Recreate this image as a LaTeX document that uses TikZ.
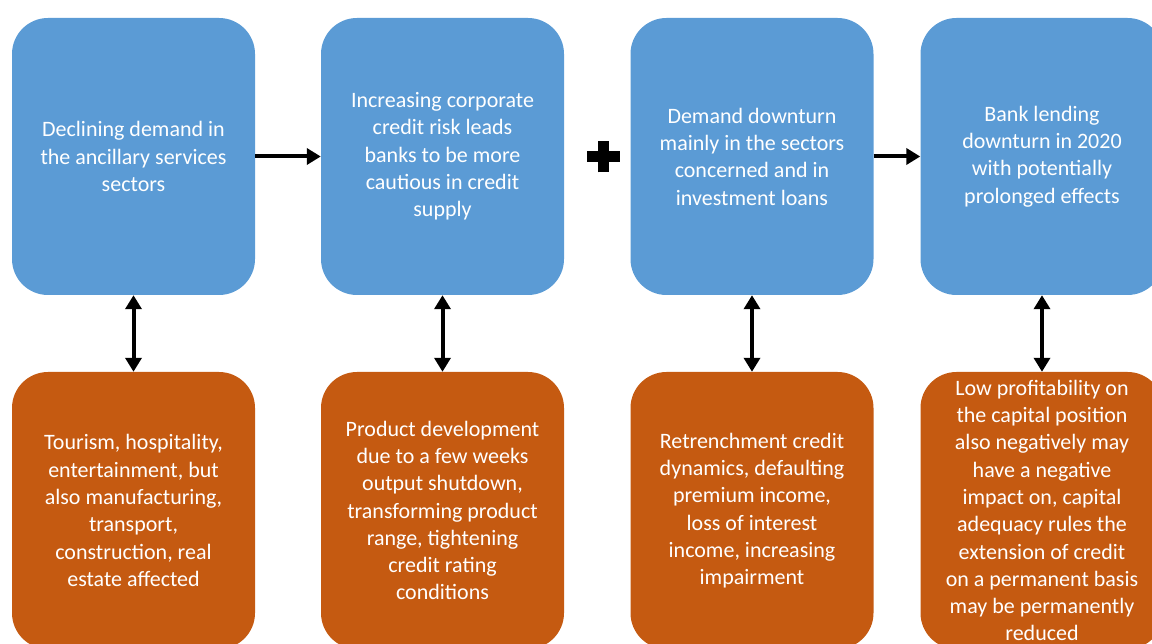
\documentclass[tikz,border=0pt]{standalone}
\usepackage{fontspec}
\setmainfont{Carlito}
\usepackage{xcolor}
\usetikzlibrary{arrows.meta}
\definecolor{dblue}{HTML}{5B9BD5}
\definecolor{dorange}{HTML}{C55A11}
\tikzstyle{stepbox}=[rounded corners=36pt,minimum width=243pt,minimum height=277pt,
  inner sep=0pt,align=center,text=white,font=\fontsize{22}{27.3}\selectfont]
\tikzstyle{cause}=[stepbox,fill=dblue]
\tikzstyle{effect}=[stepbox,fill=dorange]
\tikzstyle{arhead}=[>/.tip={Triangle[length=14pt,width=16pt]}]
\tikzstyle{ar} =[line width=4pt,arhead,->]
\tikzstyle{dar}=[line width=4pt,arhead,<->]
\begin{document}
\begin{tikzpicture}[x=1pt,y=-1pt]
	\useasboundingbox (0,0) rectangle (1152,644);
	\begin{scope}
	\clip (0,0) rectangle (1152,644);
	\node[cause]  (c1) at (133.5,156.5) {Declining demand in\\the ancillary services\\sectors};
	\node[cause]  (c2) at (442.5,156.5) {Increasing corporate\\credit risk leads\\banks to be more\\cautious in credit\\supply};
	\node[cause]  (c3) at (752,156.5)   {Demand downturn\\mainly in the sectors\\concerned and in\\investment loans};
	\node[cause]  (c4) at (1042,156.5)  {Bank lending\\downturn in 2020\\with potentially\\prolonged effects};
	\node[effect] (e1) at (133.5,510.5) {Tourism, hospitality,\\entertainment, but\\also manufacturing,\\transport,\\construction, real\\estate affected};
	\node[effect] (e2) at (442.5,510.5) {Product development\\due to a few weeks\\output shutdown,\\transforming product\\range, tightening\\credit rating\\conditions};
	\node[effect] (e3) at (752,510.5)   {Retrenchment credit\\dynamics, defaulting\\premium income,\\loss of interest\\income, increasing\\impairment};
	\node[effect] (e4) at (1042,510.5)  {Low profitability on\\the capital position\\also negatively may\\have a negative\\impact on, capital\\adequacy rules the\\extension of credit\\on a permanent basis\\may be permanently\\reduced};
	\end{scope}
	\coordinate (plus) at (603.5,157);
	\draw[line width=11pt] ([xshift=-16.5pt]plus) -- ([xshift=16.5pt]plus)
	                       ([yshift=-15.5pt]plus) -- ([yshift=15.5pt]plus);
	\draw[ar] (c1) -- (c2);
	\draw[ar] (c3) -- (c4);
	\foreach \i in {1,...,4}
	  \draw[dar] (c\i) -- (e\i);
\end{tikzpicture}
\end{document}
